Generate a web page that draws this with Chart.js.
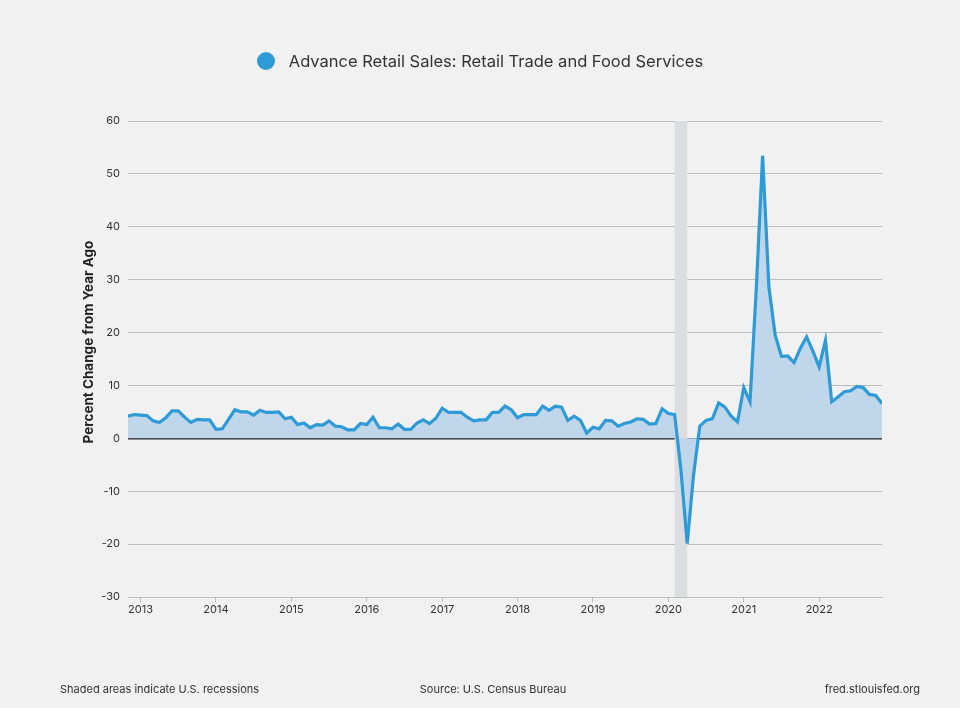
<!DOCTYPE html>
<html>
<head>
<meta charset="utf-8">
<script src="https://cdn.jsdelivr.net/npm/chart.js@4"></script>
<style>
  html, body { margin: 0; padding: 0; background: #f1f1f1; }
  #wrap { position: relative; width: 960px; height: 708px; font-family: Inter, "Noto Sans", sans-serif; color: #333; }
  #legend { position: absolute; top: 51px; left: 0; width: 960px; text-align: center; font-size: 16.5px; color: #333; }
  #legend .dot { display: inline-block; width: 18px; height: 18px; border-radius: 50%; background: #2e9ad6; vertical-align: -3px; margin-right: 14px; }
  #ytitle { position: absolute; left: 88px; top: 342px; width: 300px; margin-left: -150px; text-align: center; transform: translate(0, -50%) rotate(-90deg); font-size: 13.5px; font-weight: bold; color: #222; line-height: 16px; }
  .foot { position: absolute; top: 682px; font-size: 11px; color: #333; }
</style>
</head>
<body>
<div id="wrap">
  <canvas id="chart" width="960" height="708"></canvas>
  <div id="legend"><span class="dot"></span>Advance Retail Sales: Retail Trade and Food Services</div>
  <div id="ytitle">Percent Change from Year Ago</div>
  <div class="foot" style="left:60px">Shaded areas indicate U.S. recessions</div>
  <div class="foot" style="left:0;width:986px;text-align:center">Source: U.S. Census Bureau</div>
  <div class="foot" style="right:40px">fred.stlouisfed.org</div>
</div>
<script>
// monthly series starts Nov 2012
const startYear = 2012;
const startMonth = 11;

// percent change from year ago
const retailSalesPct = [
  4.2, 4.5,                                                   // 2012
  4.4, 4.3, 3.3, 3.0, 3.9, 5.2, 5.2, 4.0, 3.0, 3.6, 3.5, 3.5, // 2013
  1.7, 1.8, 3.6, 5.4, 5.0, 5.0, 4.4, 5.3, 4.9, 4.9, 5.0, 3.7, // 2014
  4.0, 2.6, 2.9, 2.0, 2.6, 2.5, 3.3, 2.3, 2.2, 1.6, 1.6, 2.8, // 2015
  2.6, 4.0, 2.0, 2.0, 1.8, 2.7, 1.7, 1.7, 2.9, 3.5, 2.8, 3.8, // 2016
  5.7, 4.9, 4.9, 4.9, 4.0, 3.3, 3.5, 3.5, 4.9, 4.9, 6.1, 5.4, // 2017
  3.9, 4.5, 4.5, 4.5, 6.1, 5.3, 6.1, 5.9, 3.4, 4.2, 3.4, 1.0, // 2018
  2.1, 1.8, 3.4, 3.3, 2.3, 2.8, 3.1, 3.7, 3.6, 2.7, 2.8, 5.6, // 2019
  4.7, 4.5, -6.0, -19.9, -7.0, 2.3, 3.4, 3.7, 6.7, 5.9, 4.2, 3.1, // 2020
  9.6, 6.9, 28.5, 53.4, 28.6, 19.5, 15.5, 15.6, 14.3, 17.0, 19.2, 16.5, // 2021
  13.5, 18.5, 6.9, 7.8, 8.8, 9.0, 9.8, 9.6, 8.3, 8.1, 6.6     // 2022
];

const yearTicks = [2013, 2014, 2015, 2016, 2017, 2018, 2019, 2020, 2021, 2022];
const yTicks = [-30, -20, -10, 0, 10, 20, 30, 40, 50, 60];

// recession Feb 2020 - Apr 2020 (as fractional years)
const recessionStart = [2020 + 1 / 12];
const recessionEnd = [2020 + 3 / 12];

const points = retailSalesPct.map((v, i) => ({
  x: startYear + (startMonth - 1 + i) / 12,
  y: v
}));

const recessionShade = {
  id: "recessionShade",
  beforeDatasetsDraw(chart) {
    const { ctx, chartArea, scales } = chart;
    ctx.save();
    ctx.fillStyle = "#dcdde0";
    recessionStart.forEach((s, i) => {
      const x1 = scales.x.getPixelForValue(s);
      const x2 = scales.x.getPixelForValue(recessionEnd[i]);
      ctx.fillRect(x1, chartArea.top, x2 - x1, chartArea.bottom - chartArea.top);
    });
    ctx.restore();
  }
};

Chart.defaults.font.family = 'Inter, "Noto Sans", sans-serif';
Chart.defaults.color = "#333";

new Chart(document.getElementById("chart").getContext("2d"), {
  type: "line",
  data: {
    datasets: [{
      label: "Advance Retail Sales: Retail Trade and Food Services",
      data: points,
      borderColor: "#2e9ad6",
      backgroundColor: "#c0d6ea",
      borderWidth: 3.2,
      pointRadius: 0,
      fill: "origin",
      tension: 0
    }]
  },
  options: {
    responsive: false,
    animation: false,
    layout: { padding: { left: 78, right: 78, top: 121, bottom: 81 } },
    plugins: {
      legend: { display: false },
      tooltip: { enabled: false }
    },
    scales: {
      x: {
        type: "linear",
        min: points[0].x,
        max: points[points.length - 1].x,
        afterBuildTicks: (scale) => { scale.ticks = yearTicks.map(v => ({ value: v })); },
        afterFit: (scale) => { scale.height = 30; },
        ticks: {
          callback: (v) => String(v),
          font: { size: 11 },
          padding: 1,
          maxRotation: 0,
          autoSkip: false
        },
        grid: { drawOnChartArea: false, drawTicks: true, tickLength: 5, color: "#bdbdbd" },
        border: { display: true, color: "#bdbdbd", width: 1 }
      },
      y: {
        min: -30,
        max: 60,
        afterBuildTicks: (scale) => { scale.ticks = yTicks.map(v => ({ value: v })); },
        afterFit: (scale) => { scale.width = 50; },
        ticks: { font: { size: 11 }, padding: 8 },
        grid: {
          drawTicks: false,
          color: (c) => c.tick && c.tick.value === 0 ? "#222" : "#bdbdbd",
          lineWidth: (c) => c.tick && c.tick.value === 0 ? 1.5 : 1
        },
        border: { display: false }
      }
    }
  },
  plugins: [recessionShade]
});
</script>
</body>
</html>
